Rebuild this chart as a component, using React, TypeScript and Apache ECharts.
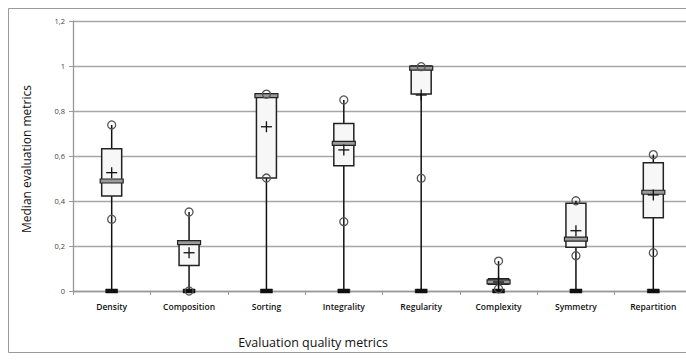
import React, { useEffect, useRef } from "react";
import * as echarts from "echarts";

// Quality metric categories on the x axis
const categories = [
  "Density",
  "Composition",
  "Sorting",
  "Integrality",
  "Regularity",
  "Complexity",
  "Symmetry",
  "Repartition",
];

// Per-metric summary statistics
const minValues = [0, 0, 0, 0, 0, 0, 0, 0];
const q1Values = [0.422, 0.113, 0.502, 0.557, 0.876, 0.03, 0.194, 0.326];
const medianValues = [0.489, 0.215, 0.868, 0.656, 0.991, 0.041, 0.231, 0.439];
const q3Values = [0.632, 0.222, 0.871, 0.745, 1.0, 0.055, 0.39, 0.57];
const upperMarks = [0.738, 0.351, 0.875, 0.849, 0.997, 0.133, 0.401, 0.606];
const lowerMarks = [0.319, 0.0, 0.502, 0.308, 0.501, 0.01, 0.157, 0.17];
const meanValues = [0.526, 0.17, 0.73, 0.627, 0.871, 0.04, 0.268, 0.427];

// Y axis ticks
const yMin = 0;
const yMax = 1.2;
const yStep = 0.2;

const yTitle = "Median evaluation metrics";
const xTitle = "Evaluation quality metrics";

export default function App() {
  const ref = useRef<HTMLDivElement>(null);

  useEffect(() => {
    if (!ref.current) return;
    const chart = echarts.init(ref.current, undefined, { renderer: "svg" });

    const rows = categories.map((_, i) => [
      i,
      minValues[i],
      q1Values[i],
      medianValues[i],
      q3Values[i],
      upperMarks[i],
      lowerMarks[i],
      meanValues[i],
    ]);

    const renderItem = (_params: any, api: any) => {
      const x = api.value(0);
      const pMin = api.coord([x, api.value(1)]);
      const pQ1 = api.coord([x, api.value(2)]);
      const pMed = api.coord([x, api.value(3)]);
      const pQ3 = api.coord([x, api.value(4)]);
      const pUp = api.coord([x, api.value(5)]);
      const pLow = api.coord([x, api.value(6)]);
      const pMean = api.coord([x, api.value(7)]);
      const cx = pMin[0];
      const bw = 20;
      const mw = 23;
      const r = 4;
      const plus = 5.5;
      return {
        type: "group",
        children: [
          {
            type: "line",
            shape: { x1: cx, y1: pMin[1], x2: cx, y2: pUp[1] },
            style: { stroke: "#111", lineWidth: 1.5 },
          },
          {
            type: "rect",
            shape: { x: cx - bw / 2, y: pQ3[1], width: bw, height: pQ1[1] - pQ3[1] },
            style: { fill: "#f7f7f7", stroke: "#222", lineWidth: 1.5 },
          },
          {
            type: "rect",
            shape: { x: cx - mw / 2, y: pMed[1] - 2, width: mw, height: 4 },
            style: { fill: "#9a9a9a", stroke: "#222", lineWidth: 1.2 },
          },
          {
            type: "rect",
            shape: { x: cx - 6, y: pMin[1] - 2, width: 12, height: 4 },
            style: { fill: "#111", stroke: "#111", lineWidth: 0.5 },
          },
          {
            type: "circle",
            shape: { cx, cy: pUp[1], r },
            style: { fill: "none", stroke: "#555", lineWidth: 1.3 },
          },
          {
            type: "circle",
            shape: { cx, cy: pLow[1], r },
            style: { fill: "none", stroke: "#555", lineWidth: 1.3 },
          },
          {
            type: "line",
            shape: { x1: cx - plus, y1: pMean[1], x2: cx + plus, y2: pMean[1] },
            style: { stroke: "#111", lineWidth: 1.3 },
          },
          {
            type: "line",
            shape: { x1: cx, y1: pMean[1] - plus, x2: cx, y2: pMean[1] + plus },
            style: { stroke: "#111", lineWidth: 1.3 },
          },
        ],
      };
    };

    chart.setOption({
      animation: false,
      backgroundColor: "#fff",
      grid: { left: 73, right: 8, top: 21, bottom: 73, containLabel: false },
      xAxis: {
        type: "category",
        data: categories,
        boundaryGap: true,
        axisLine: { lineStyle: { color: "#999", width: 1.3 } },
        axisTick: { show: true, length: 4, lineStyle: { color: "#999" } },
        axisLabel: {
          interval: 0,
          margin: 11,
          color: "#111",
          fontFamily: "Open Sans",
          fontWeight: 600,
          fontSize: 8.5,
        },
      },
      yAxis: {
        type: "value",
        min: yMin,
        max: yMax,
        interval: yStep,
        axisLine: { show: true, lineStyle: { color: "#999", width: 1.3 } },
        axisTick: { show: true, length: 4, lineStyle: { color: "#999" } },
        axisLabel: {
          margin: 8,
          color: "#444",
          fontFamily: "Open Sans",
          fontSize: 7.5,
          formatter: (v: number) => String(Math.round(v * 10) / 10).replace(".", ","),
        },
        splitLine: { show: true, lineStyle: { color: "#a6a6a6", width: 1.4 } },
      },
      graphic: [
        {
          type: "rect",
          shape: { x: 8.5, y: 8.5, width: 720, height: 344 },
          style: { fill: "none", stroke: "#999", lineWidth: 1 },
          silent: true,
        },
        {
          type: "text",
          x: 26,
          y: 159,
          rotation: Math.PI / 2,
          style: {
            text: yTitle,
            font: "12px 'Open Sans'",
            fill: "#111",
            align: "center",
            verticalAlign: "middle",
          },
        },
        {
          type: "text",
          x: 313,
          y: 342,
          style: {
            text: xTitle,
            font: "12.5px 'Open Sans'",
            fill: "#111",
            align: "center",
            verticalAlign: "middle",
          },
        },
      ],
      series: [
        {
          type: "custom",
          renderItem,
          data: rows,
          encode: { x: 0, y: [1, 2, 3, 4, 5, 6, 7] },
          clip: false,
          z: 5,
        },
      ],
    });

    return () => chart.dispose();
  }, []);

  return (
    <div
      style={{
        position: "fixed",
        left: 0,
        top: 0,
        width: 686,
        height: 364,
        overflow: "hidden",
        background: "#fff",
      }}
    >
      <div ref={ref} style={{ width: 700, height: 364 }} />
    </div>
  );
}
